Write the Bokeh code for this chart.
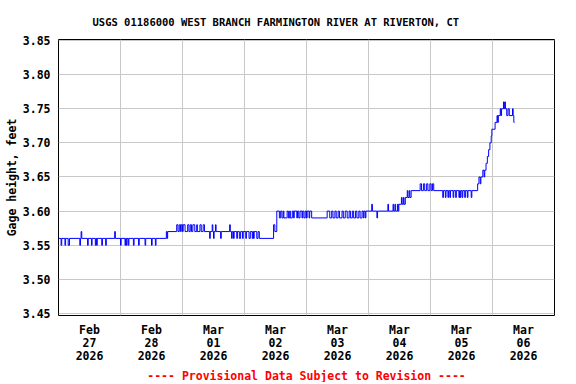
from bokeh.plotting import figure
from bokeh.models import FixedTicker, Range1d, Title, PrintfTickFormatter
from bokeh.embed import file_html
from bokeh.resources import INLINE

# Gage height change points: hours since 2026-02-27 00:00, value in feet (step data)
hours = [
    # Feb 27
    0, 1.0, 1.25, 2.5, 2.75, 3.75, 4.25, 8.25, 8.5, 8.75, 9.0, 11.25, 11.5, 12.75, 13.0,
    14.25, 14.5, 14.75, 15.0, 16.75, 17.0, 18.25, 18.5, 21.75, 22.0,
    # Feb 28
    24.0, 24.25, 25.75, 26.0, 26.25, 26.5, 27.0, 27.25, 29.0, 29.25, 31.0, 31.25, 33.5, 33.75,
    36.0, 36.25, 37.5, 37.75, 41.75, 42.0, 42.25, 45.75, 46.25, 46.75, 47.25,
    # Mar 01
    47.5, 48.0, 48.25, 49.0, 50.0, 50.5, 51.0, 51.5, 52.0, 52.75, 53.5, 53.75, 54.75, 55.25,
    56.0, 56.5, 58.5, 58.75, 59.5, 59.75, 60.0, 60.25, 60.75, 61.0, 62.75, 63.0, 66.25, 66.5,
    67.0, 67.25, 67.75, 68.0, 69.0, 69.25, 70.0, 70.5,
    # Mar 02
    71.25, 71.5, 72.5, 72.75, 73.75, 74.25, 75.0, 75.25, 75.5, 75.75, 76.75, 77.25, 77.75,
    83.25, 83.75, 84.5, 85.5, 86.0, 86.5, 87.0, 87.25, 88.5, 89.0, 89.5, 89.75, 90.5, 91.0,
    91.25, 92.25, 92.5, 93.0, 93.5, 94.25, 94.5,
    # Mar 03
    95.0, 95.5, 96.0, 96.25, 97.0, 97.25, 98.0, 104.0, 105.0, 105.75, 106.25, 107.0, 107.5,
    108.25, 108.75, 109.75, 110.25, 111.0, 111.75, 112.5, 113.0, 113.75, 114.25, 115.0,
    115.5, 116.25, 116.75, 117.5, 118.0, 118.25, 118.75,
    # Mar 04
    119.0, 121.25, 121.5, 123.25, 123.5, 127.5, 127.75, 129.5, 129.75, 130.25, 130.5,
    131.25, 131.5, 131.75, 132.75, 133.0, 133.5, 133.75, 134.25, 135.0, 135.25, 135.75,
    136.0, 136.5, 140.0, 140.5, 141.25, 141.75,
    # Mar 05
    142.5, 143.0, 143.75, 144.25, 144.75, 145.25, 148.75, 149.0, 149.75, 150.0, 150.75,
    151.0, 151.5, 151.75, 152.75, 153.0, 153.75, 154.0, 155.0, 155.25, 155.5, 155.75,
    156.25, 156.5, 157.25, 157.5, 158.25, 158.5, 159.75, 160.0,
    162.25, 162.75, 163.25, 163.5, 164.25, 164.75, 165.0, 165.5, 166.0, 166.5,
    # Mar 06
    167.0, 167.5, 167.75, 169.0, 169.75, 170.0, 170.25, 171.0, 171.25, 171.5, 172.25,
    172.5, 172.75, 173.0, 173.5, 174.0, 174.5, 175.75, 176.0, 176.25, 176.5,
]
gage_ft = [
    # Feb 27
    3.56, 3.55, 3.56, 3.55, 3.56, 3.55, 3.56, 3.55, 3.56, 3.57, 3.56, 3.55, 3.56, 3.55, 3.56,
    3.55, 3.56, 3.55, 3.56, 3.55, 3.56, 3.55, 3.56, 3.57, 3.56,
    # Feb 28
    3.55, 3.56, 3.55, 3.56, 3.55, 3.56, 3.55, 3.56, 3.55, 3.56, 3.55, 3.56, 3.55, 3.56,
    3.55, 3.56, 3.55, 3.56, 3.57, 3.56, 3.57, 3.58, 3.57, 3.58, 3.57,
    # Mar 01
    3.58, 3.57, 3.58, 3.57, 3.58, 3.57, 3.58, 3.57, 3.58, 3.57, 3.58, 3.57, 3.58, 3.57,
    3.58, 3.57, 3.56, 3.57, 3.58, 3.57, 3.56, 3.57, 3.58, 3.57, 3.56, 3.57, 3.58, 3.57,
    3.56, 3.57, 3.56, 3.57, 3.56, 3.57, 3.56, 3.57,
    # Mar 02
    3.56, 3.57, 3.56, 3.57, 3.56, 3.57, 3.56, 3.57, 3.56, 3.57, 3.56, 3.57, 3.56,
    3.58, 3.57, 3.60, 3.59, 3.60, 3.59, 3.60, 3.59, 3.60, 3.59, 3.60, 3.59, 3.60, 3.59,
    3.60, 3.59, 3.60, 3.59, 3.60, 3.59, 3.60,
    # Mar 03
    3.59, 3.60, 3.59, 3.60, 3.59, 3.60, 3.59, 3.60, 3.59, 3.60, 3.59, 3.60, 3.59,
    3.60, 3.59, 3.60, 3.59, 3.60, 3.59, 3.60, 3.59, 3.60, 3.59, 3.60,
    3.59, 3.60, 3.59, 3.60, 3.59, 3.60, 3.59,
    # Mar 04
    3.60, 3.61, 3.60, 3.59, 3.60, 3.61, 3.60, 3.61, 3.60, 3.61, 3.60,
    3.61, 3.60, 3.61, 3.62, 3.61, 3.62, 3.61, 3.62, 3.63, 3.62, 3.63,
    3.62, 3.63, 3.64, 3.63, 3.64, 3.63,
    # Mar 05
    3.64, 3.63, 3.64, 3.63, 3.64, 3.63, 3.62, 3.63, 3.62, 3.63, 3.62,
    3.63, 3.62, 3.63, 3.62, 3.63, 3.62, 3.63, 3.62, 3.63, 3.62, 3.63,
    3.62, 3.63, 3.62, 3.63, 3.62, 3.63, 3.62, 3.63,
    3.64, 3.65, 3.64, 3.65, 3.66, 3.65, 3.66, 3.67, 3.68, 3.69,
    # Mar 06
    3.70, 3.71, 3.72, 3.73, 3.74, 3.73, 3.74, 3.75, 3.74, 3.75, 3.76,
    3.75, 3.76, 3.75, 3.74, 3.75, 3.74, 3.75, 3.74, 3.73, 3.73,
]

day_ticks = [12, 36, 60, 84, 108, 132, 156, 180]
day_labels = ["Feb\n27\n2026", "Feb\n28\n2026", "Mar\n01\n2026", "Mar\n02\n2026",
              "Mar\n03\n2026", "Mar\n04\n2026", "Mar\n05\n2026", "Mar\n06\n2026"]
midnights = [24, 48, 72, 96, 120, 144, 168]
y_ticks = [3.45, 3.50, 3.55, 3.60, 3.65, 3.70, 3.75, 3.80, 3.85]

FONT = "DejaVu Sans Mono"

p = figure(frame_width=496, frame_height=276,
           x_range=Range1d(0, 192), y_range=Range1d(3.447, 3.8515),
           output_backend="svg", toolbar_location=None,
           min_border_left=58, min_border_right=6, min_border_top=39, min_border_bottom=0)

p.title.text = "USGS 01186000 WEST BRANCH FARMINGTON RIVER AT RIVERTON, CT"
p.title.align = "left"
p.title.offset = 34
p.title.standoff = 23
p.title.text_font = FONT
p.title.text_font_size = "10.5px"
p.title.text_font_style = "bold"
p.title.text_color = "black"

footer = Title(text="---- Provisional Data Subject to Revision ----", align="center",
               text_color="#ff0000", text_font=FONT, text_font_size="11.5px",
               text_font_style="bold", standoff=0)
p.add_layout(footer, "below")

p.outline_line_color = "black"
p.outline_line_width = 1
p.background_fill_color = "white"
p.border_fill_color = "white"

for ax in (p.xaxis, p.yaxis):
    ax.axis_line_color = None
    ax.major_tick_line_color = None
    ax.minor_tick_line_color = None
    ax.major_tick_out = 0
    ax.major_tick_in = 0
    ax.major_label_text_font = FONT
    ax.major_label_text_font_size = "11.5px"
    ax.major_label_text_font_style = "bold"
    ax.major_label_text_color = "black"

p.xaxis.ticker = FixedTicker(ticks=day_ticks)
p.xaxis.major_label_overrides = dict(zip(day_ticks, day_labels))
p.xaxis.major_label_standoff = 7
p.xaxis.major_label_text_line_height = 0.96

p.yaxis.ticker = FixedTicker(ticks=y_ticks)
p.yaxis.formatter = PrintfTickFormatter(format="%.2f")
p.yaxis.major_label_standoff = 8
p.yaxis.axis_label = "Gage height, feet"
p.yaxis.axis_label_text_font = FONT
p.yaxis.axis_label_text_font_size = "11.5px"
p.yaxis.axis_label_text_font_style = "bold"
p.yaxis.axis_label_text_color = "black"
p.yaxis.axis_label_standoff = 1

p.xgrid.ticker = FixedTicker(ticks=midnights)
p.ygrid.ticker = FixedTicker(ticks=y_ticks)
for g in (p.xgrid, p.ygrid):
    g.grid_line_color = "#c8c8c8"
    g.grid_line_width = 1

p.step(hours, gage_ft, mode="after", line_color="#0000ff", line_width=1)

open("out.html", "w").write(file_html(p, INLINE))
